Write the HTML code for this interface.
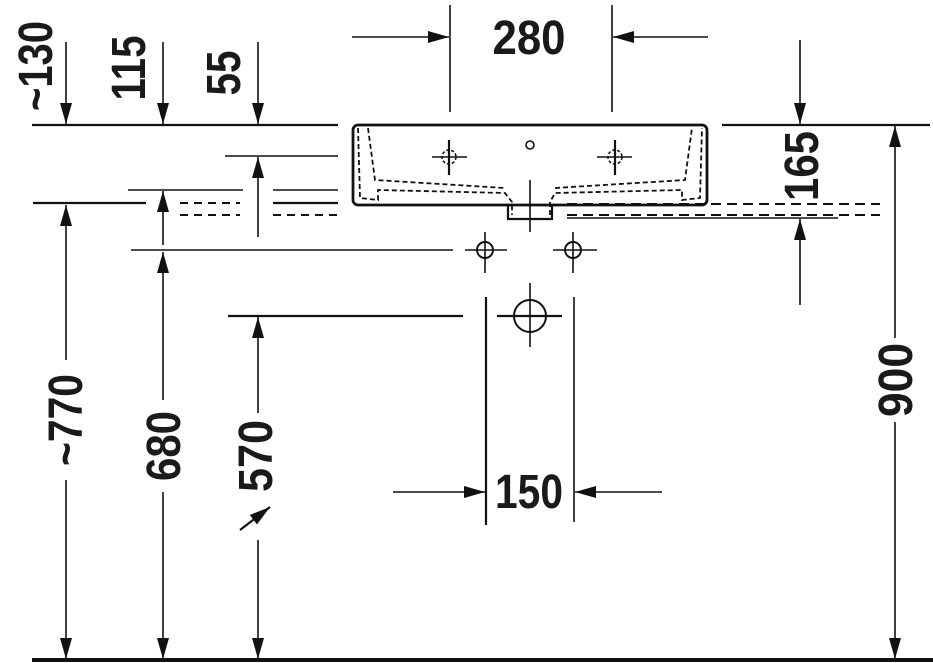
<!DOCTYPE html>
<html><head><meta charset="utf-8"><style>
html,body{margin:0;padding:0;background:#fff;}
svg{display:block;}
text{font-family:"Liberation Sans Narrow","Liberation Sans",sans-serif;font-weight:bold;font-size:48px;fill:#1a1a1a;}
</style></head><body>
<svg width="933" height="663" viewBox="0 0 933 663" xmlns="http://www.w3.org/2000/svg">
<defs>
<marker id="a" markerUnits="userSpaceOnUse" markerWidth="22" markerHeight="14" refX="21" refY="7" orient="auto">
<path d="M0,1 L21,7 L0,13 Z" fill="#111"/>
</marker>
</defs>
<g stroke="#111" fill="none" stroke-width="1.6">
<line x1="32" y1="125" x2="338" y2="125" stroke-width="2.2"/>
<line x1="722" y1="125" x2="930" y2="125" stroke-width="2.2"/>
<line x1="66" y1="42" x2="66" y2="124" marker-end="url(#a)"/>
<line x1="163" y1="42" x2="163" y2="124" marker-end="url(#a)"/>
<line x1="258" y1="42" x2="258" y2="124" marker-end="url(#a)"/>
<line x1="800" y1="40" x2="800" y2="124" marker-end="url(#a)"/>
<line x1="450" y1="5" x2="450" y2="112"/>
<line x1="612" y1="5" x2="612" y2="112"/>
<line x1="352" y1="37" x2="449" y2="37" marker-end="url(#a)"/>
<line x1="708" y1="37" x2="613" y2="37" marker-end="url(#a)"/>
<line x1="225" y1="156" x2="338" y2="156"/>
<line x1="128" y1="190" x2="243" y2="190"/>
<line x1="273" y1="190" x2="338" y2="190"/>
<line x1="33" y1="203" x2="146" y2="203" stroke-width="2.2"/>
<line x1="273" y1="203" x2="338" y2="203" stroke-width="2.2"/>
<line x1="180" y1="203" x2="240" y2="203" stroke-dasharray="8,6" stroke-width="2"/>
<line x1="180" y1="215" x2="240" y2="215" stroke-dasharray="8,6" stroke-width="2"/>
<line x1="273" y1="215" x2="338" y2="215" stroke-dasharray="8,6" stroke-width="2"/>
<line x1="131" y1="250" x2="453" y2="250"/>
<line x1="228" y1="316" x2="463" y2="316" stroke-width="2.2"/>
<line x1="258" y1="237" x2="258" y2="157" marker-end="url(#a)"/>
<line x1="163" y1="245" x2="163" y2="191" marker-end="url(#a)"/>
<line x1="567" y1="204" x2="880" y2="204" stroke-dasharray="10,6" stroke-width="2"/>
<line x1="567" y1="215" x2="880" y2="215" stroke-dasharray="10,6" stroke-width="2"/>
<line x1="567" y1="218" x2="838" y2="218"/>
<line x1="800" y1="305" x2="800" y2="219" marker-end="url(#a)"/>
<rect x="353" y="125" width="354" height="80" rx="5" stroke-width="2.8"/>
<path d="M508,205 V219 H552 V205" stroke-width="2.2"/>
<path d="M358,128 L360,198 L378,200 L378,190 L505,193 L512,202 L512,215 M550,215 L550,202 L555,193 L682,190 L682,200 L700,198 L702,128" stroke-dasharray="5,3" stroke-width="1.8"/>
<path d="M368,128 L375,180 L505,188 M555,188 L685,180 L692,128" stroke-dasharray="5,3" stroke-width="1.8"/>
<line x1="530" y1="180" x2="530" y2="232"/>
<circle cx="530" cy="145" r="4"/>
<line x1="432" y1="157" x2="467" y2="157"/><line x1="449" y1="140" x2="449" y2="175" stroke-width="2.2"/>
<circle cx="449" cy="157" r="7" stroke-dasharray="3,2"/>
<line x1="597" y1="157" x2="632" y2="157"/><line x1="615" y1="140" x2="615" y2="175" stroke-width="2.2"/>
<circle cx="615" cy="157" r="7" stroke-dasharray="3,2"/>
<circle cx="485" cy="250" r="8" stroke-width="2"/>
<line x1="465" y1="250" x2="507" y2="250"/><line x1="485" y1="232" x2="485" y2="273"/>
<circle cx="573" cy="250" r="8" stroke-width="2"/>
<line x1="553" y1="250" x2="597" y2="250"/><line x1="573" y1="232" x2="573" y2="273"/>
<circle cx="530" cy="316" r="16" stroke-width="2"/>
<line x1="497" y1="316" x2="562" y2="316" stroke-width="2.2"/><line x1="530" y1="283" x2="530" y2="347"/>
<line x1="486" y1="297" x2="486" y2="525" stroke-width="2.2"/>
<line x1="574" y1="297" x2="574" y2="522"/>
<line x1="393" y1="492" x2="485" y2="492" marker-end="url(#a)"/>
<line x1="662" y1="492" x2="575" y2="492" marker-end="url(#a)"/>
<line x1="66" y1="360" x2="66" y2="205" marker-end="url(#a)"/>
<line x1="66" y1="480" x2="66" y2="659" marker-end="url(#a)"/>
<line x1="163" y1="400" x2="163" y2="252" marker-end="url(#a)"/>
<line x1="163" y1="492" x2="163" y2="659" marker-end="url(#a)"/>
<line x1="258" y1="413" x2="258" y2="317" marker-end="url(#a)"/>
<line x1="258" y1="540" x2="258" y2="659" marker-end="url(#a)"/>
<line x1="240" y1="530" x2="270" y2="507" stroke-width="2.2" marker-end="url(#a)"/>
<line x1="895" y1="338" x2="895" y2="126" marker-end="url(#a)"/>
<line x1="895" y1="422" x2="895" y2="659" marker-end="url(#a)"/>
<line x1="32" y1="660" x2="933" y2="660" stroke-width="4"/>
</g>
<text x="529" y="54" text-anchor="middle" textLength="73" lengthAdjust="spacingAndGlyphs">280</text>
<text x="529" y="508" text-anchor="middle" textLength="68" lengthAdjust="spacingAndGlyphs">150</text>
<text transform="translate(52,66) rotate(-90)" text-anchor="middle" textLength="90" lengthAdjust="spacingAndGlyphs">~130</text>
<text transform="translate(145,68) rotate(-90)" text-anchor="middle" textLength="65" lengthAdjust="spacingAndGlyphs">115</text>
<text transform="translate(240,73) rotate(-90)" text-anchor="middle" textLength="45" lengthAdjust="spacingAndGlyphs">55</text>
<text transform="translate(818,166) rotate(-90)" text-anchor="middle" textLength="70" lengthAdjust="spacingAndGlyphs">165</text>
<text transform="translate(82,420) rotate(-90)" text-anchor="middle" textLength="92" lengthAdjust="spacingAndGlyphs">~770</text>
<text transform="translate(180,446) rotate(-90)" text-anchor="middle" textLength="70" lengthAdjust="spacingAndGlyphs">680</text>
<text transform="translate(272,456) rotate(-90)" text-anchor="middle" textLength="72" lengthAdjust="spacingAndGlyphs">570</text>
<text transform="translate(912,380) rotate(-90)" text-anchor="middle" textLength="74" lengthAdjust="spacingAndGlyphs">900</text>
</svg>
</body></html>
